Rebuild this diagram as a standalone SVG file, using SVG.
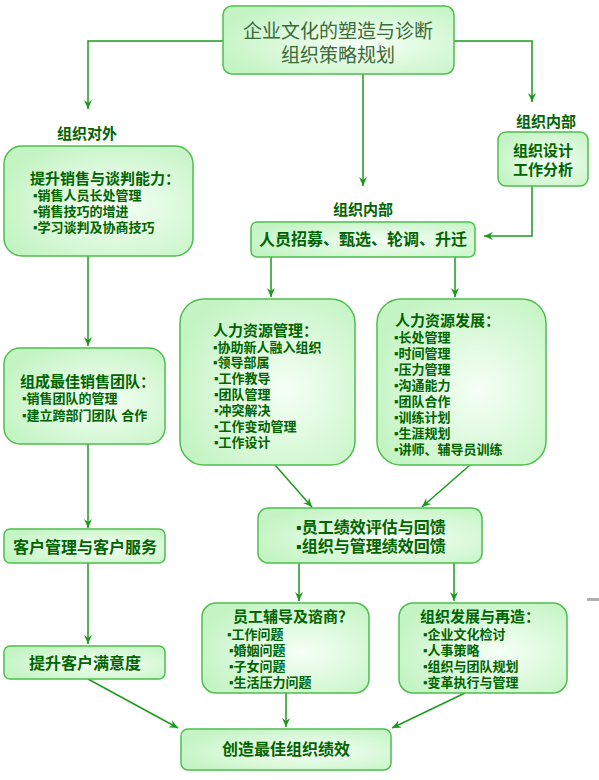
<svg xmlns="http://www.w3.org/2000/svg" width="599" height="780" viewBox="0 0 599 780">
<defs>
<radialGradient id="g" cx="60%" cy="55%" r="65%">
<stop offset="0" stop-color="#f6fff6"/>
<stop offset="1" stop-color="#c4f4c4"/>
</radialGradient>
<marker id="ar" markerWidth="10" markerHeight="10" refX="9" refY="5" orient="auto" markerUnits="userSpaceOnUse">
<path d="M0,1 L9,5 L0,9 L3,5 Z" fill="#1c9a1c"/>
</marker>
<style>
.box{fill:url(#g);stroke:#4cbf4c;stroke-width:1.5}
.t{font-family:"Liberation Sans","Noto Sans CJK SC","Noto Sans CJK TC",sans-serif;fill:#006400;font-weight:bold}
.h{font-size:15px}
.i{font-size:13px}
.c{text-anchor:middle}
.top{font-family:"Liberation Sans","Noto Sans CJK SC",sans-serif;fill:#3a6a3a;font-size:19px;text-anchor:middle}
.ln{fill:none;stroke:#1c9a1c;stroke-width:1.5;marker-end:url(#ar)}
</style>
</defs>
<rect width="599" height="780" fill="#ffffff"/>

<g id="connectors">
<polyline class="ln" points="223,41 88,41 88,109"/>
<polyline class="ln" points="454,41 532,41 532,102"/>
<line class="ln" x1="363" y1="74" x2="363" y2="186"/>
<polyline class="ln" points="532,186 532,236 484,236"/>
<line class="ln" x1="271" y1="257" x2="271" y2="297"/>
<line class="ln" x1="455" y1="257" x2="455" y2="297"/>
<line class="ln" x1="88" y1="256" x2="88" y2="346"/>
<line class="ln" x1="88" y1="444" x2="88" y2="528"/>
<line class="ln" x1="88" y1="563" x2="88" y2="644"/>
<line class="ln" x1="275" y1="465" x2="312" y2="507"/>
<line class="ln" x1="470" y1="465" x2="422" y2="507"/>
<line class="ln" x1="299" y1="563" x2="299" y2="601"/>
<line class="ln" x1="454" y1="563" x2="454" y2="601"/>
<line class="ln" x1="88" y1="679" x2="178" y2="728"/>
<line class="ln" x1="286" y1="693" x2="286" y2="727"/>
<line class="ln" x1="465" y1="693" x2="392" y2="728"/>
</g>

<g id="top">
<rect class="box" x="223" y="6" width="231" height="68" rx="9"/>
<text class="top"><tspan x="338" y="38">企业文化的塑造与诊断</tspan><tspan x="338" y="62">组织策略规划</tspan></text>
</g>

<g id="label-outer">
<text class="t h c" x="87" y="139">组织对外</text>
</g>
<g id="label-inner-right">
<text class="t h c" x="546" y="127">组织内部</text>
</g>
<g id="label-inner-center">
<text class="t h c" x="363" y="215">组织内部</text>
</g>

<g id="sales">
<rect class="box" x="4" y="146" width="189" height="110" rx="18"/>
<text class="t i"><tspan class="h" x="30" y="184">提升销售与谈判能力：</tspan><tspan x="33" y="200">▪销售人员长处管理</tspan><tspan x="33" y="216">▪销售技巧的增进</tspan><tspan x="33" y="232">▪学习谈判及协商技巧</tspan></text>
</g>

<g id="design">
<rect class="box" x="498" y="132" width="90" height="54" rx="8"/>
<text class="t h c"><tspan x="543" y="156">组织设计</tspan><tspan x="543" y="175">工作分析</tspan></text>
</g>

<g id="recruit">
<rect class="box" x="251" y="222" width="224" height="35" rx="6"/>
<text class="t c" style="font-size:16px" x="363" y="245">人员招募、甄选、轮调、升迁</text>
</g>

<g id="hrm">
<rect class="box" x="180" y="299" width="175" height="166" rx="24"/>
<text class="t i"><tspan class="h" x="213" y="336">人力资源管理：</tspan><tspan x="213" y="352">▪协助新人融入组织</tspan><tspan x="213" y="367">▪领导部属</tspan><tspan x="214" y="383">▪工作教导</tspan><tspan x="214" y="399">▪团队管理</tspan><tspan x="214" y="415">▪冲突解决</tspan><tspan x="214" y="431">▪工作变动管理</tspan><tspan x="214" y="447">▪工作设计</tspan></text>
</g>

<g id="hrd">
<rect class="box" x="377" y="299" width="169" height="166" rx="24"/>
<text class="t i"><tspan class="h" x="395" y="326">人力资源发展：</tspan><tspan x="394" y="342">▪长处管理</tspan><tspan x="394" y="358">▪时间管理</tspan><tspan x="394" y="374">▪压力管理</tspan><tspan x="394" y="390">▪沟通能力</tspan><tspan x="394" y="406">▪团队合作</tspan><tspan x="394" y="422">▪训练计划</tspan><tspan x="394" y="438">▪生涯规划</tspan><tspan x="394" y="454">▪讲师、辅导员训练</tspan></text>
</g>

<g id="team">
<rect class="box" x="4" y="348" width="161" height="96" rx="16"/>
<text class="t i"><tspan class="h" x="20" y="387">组成最佳销售团队：</tspan><tspan x="22" y="403">▪销售团队的管理</tspan><tspan x="22" y="420">▪建立跨部门团队 合作</tspan></text>
</g>

<g id="perf">
<rect class="box" x="258" y="508" width="224" height="55" rx="10"/>
<text class="t" style="font-size:16px"><tspan x="296" y="533">▪员工绩效评估与回馈</tspan><tspan x="296" y="552">▪组织与管理绩效回馈</tspan></text>
</g>

<g id="customer">
<rect class="box" x="4" y="529" width="161" height="34" rx="6"/>
<text class="t c" style="font-size:16px" x="85" y="553">客户管理与客户服务</text>
</g>

<g id="satisfaction">
<rect class="box" x="4" y="646" width="161" height="33" rx="6"/>
<text class="t c" style="font-size:16px" x="85" y="669">提升客户满意度</text>
</g>

<g id="coach">
<rect class="box" x="202" y="603" width="167" height="90" rx="14"/>
<text class="t i"><tspan class="h" x="233" y="622">员工辅导及谘商？</tspan><tspan x="227" y="639">▪工作问题</tspan><tspan x="229" y="655">▪婚姻问题</tspan><tspan x="229" y="671">▪子女问题</tspan><tspan x="229" y="687">▪生活压力问题</tspan></text>
</g>

<g id="orgdev">
<rect class="box" x="399" y="603" width="168" height="90" rx="14"/>
<text class="t i"><tspan class="h" x="420" y="622">组织发展与再造：</tspan><tspan x="423" y="639">▪企业文化检讨</tspan><tspan x="423" y="655">▪人事策略</tspan><tspan x="423" y="671">▪组织与团队规划</tspan><tspan x="423" y="687">▪变革执行与管理</tspan></text>
</g>

<g id="best">
<rect class="box" x="181" y="729" width="210" height="41" rx="7"/>
<text class="t c" style="font-size:16px" x="286" y="755">创造最佳组织绩效</text>
</g>

<rect x="587" y="598" width="12" height="3" fill="#b0b0b0"/>
</svg>
